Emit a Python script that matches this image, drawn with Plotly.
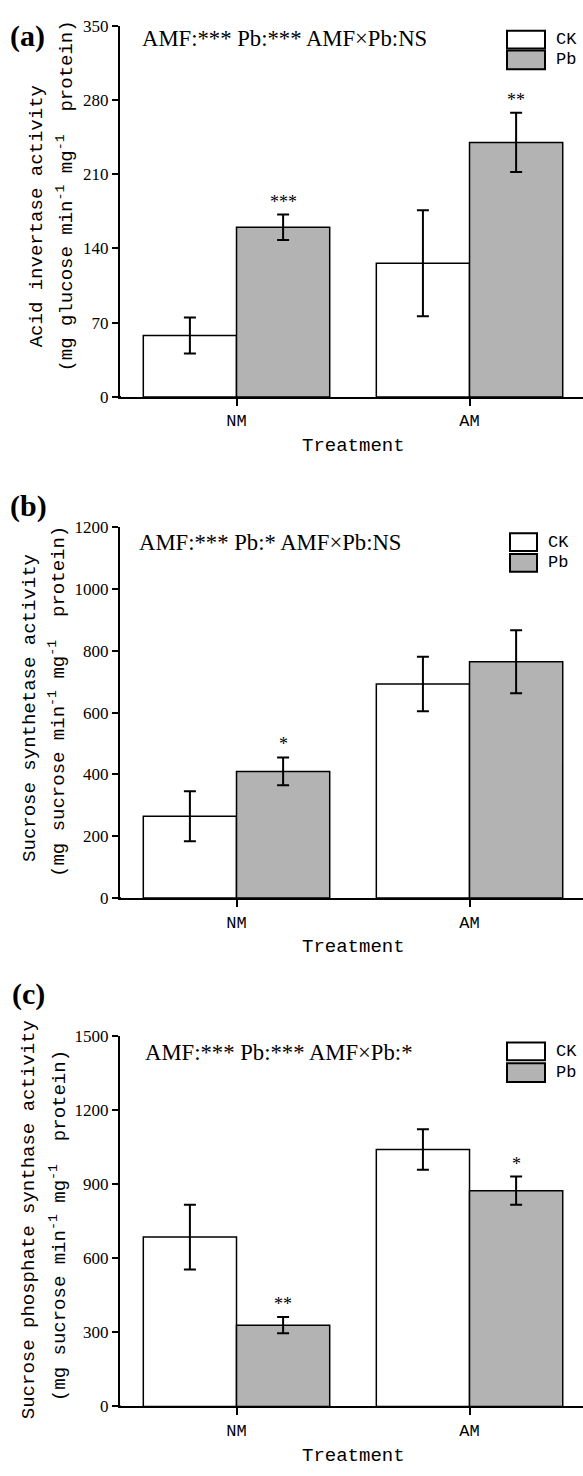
import plotly.graph_objects as go

# ---------------- data ----------------
categories = ["NM", "AM"]

# (a) Acid invertase activity
ai_ck = [58, 126]
ai_ck_err = [17, 50]
ai_pb = [160, 240]
ai_pb_err = [12, 28]
ai_pb_sig = ["***", "**"]
ai_ticks = [0, 70, 140, 210, 280, 350]
ai_stats = "AMF:*** Pb:*** AMF×Pb:NS"

# (b) Sucrose synthetase activity
ss_ck = [265, 693]
ss_ck_err = [81, 88]
ss_pb = [410, 765]
ss_pb_err = [45, 102]
ss_pb_sig = ["*", ""]
ss_ticks = [0, 200, 400, 600, 800, 1000, 1200]
ss_stats = "AMF:*** Pb:* AMF×Pb:NS"

# (c) Sucrose phosphate synthase activity
sps_ck = [685, 1039]
sps_ck_err = [131, 82]
sps_pb = [329, 873]
sps_pb_err = [33, 57]
sps_pb_sig = ["**", "*"]
sps_ticks = [0, 300, 600, 900, 1200, 1500]
sps_stats = "AMF:*** Pb:*** AMF×Pb:*"

series_names = ["CK", "Pb"]
panel_labels = ["(a)", "(b)", "(c)"]
ytitle_line1 = ["Acid invertase activity",
                "Sucrose synthetase activity",
                "Sucrose phosphate synthase activity"]
ytitle_line2 = ["(mg glucose min<sup>-1</sup> mg<sup>-1</sup>  protein)",
                "(mg sucrose min<sup>-1</sup> mg<sup>-1</sup>  protein)",
                "(mg sucrose min<sup>-1</sup> mg<sup>-1</sup>  protein)"]
xtitle = "Treatment"

# ---------------- layout geometry (pixels) ----------------
W, H = 583, 1476
def px(x):
    return x / W
def py(y):
    return 1 - y / H

panels = [
    dict(ck=ai_ck, ck_err=ai_ck_err, pb=ai_pb, pb_err=ai_pb_err, sig=ai_pb_sig,
         ticks=ai_ticks, stats=ai_stats, top=17, bottom=393,
         lab=(27, 27), stats_pos=(140, 30), yt1=(37, 210), yt2=(66, 190),
         leg_x=(507, 545), leg_ck=(22, 40), leg_pb=(42, 61), xt_y=443),
    dict(ck=ss_ck, ck_err=ss_ck_err, pb=ss_pb, pb_err=ss_pb_err, sig=ss_pb_sig,
         ticks=ss_ticks, stats=ss_stats, top=525, bottom=900.7,
         lab=(28, 503), stats_pos=(137, 540), yt1=(30, 708), yt2=(58, 702),
         leg_x=(510, 537), leg_ck=(531, 549), leg_pb=(552, 570), xt_y=950),
    dict(ck=sps_ck, ck_err=sps_ck_err, pb=sps_pb, pb_err=sps_pb_err, sig=sps_pb_sig,
         ticks=sps_ticks, stats=sps_stats, top=1040, bottom=1415.7,
         lab=(28, 998), stats_pos=(143, 1057), yt1=(29, 1227), yt2=(58, 1233),
         leg_x=(507, 545), leg_ck=(1047, 1065), leg_pb=(1068, 1087), xt_y=1466),
]

CK_COLOR = "white"
PB_COLOR = "#b3b3b3"
MONO = "Liberation Mono"
SERIF = "Liberation Serif"

fig = go.Figure()
annotations = []
shapes = []
layout_axes = {}

for i, p in enumerate(panels):
    n = "" if i == 0 else str(i + 1)
    xa, ya = "x" + n, "y" + n
    for name, vals, errs, color in [("CK", p["ck"], p["ck_err"], CK_COLOR),
                                     ("Pb", p["pb"], p["pb_err"], PB_COLOR)]:
        fig.add_trace(go.Bar(
            x=categories, y=vals, name=name, offsetgroup=name,
            xaxis=xa, yaxis=ya, showlegend=False,
            marker=dict(color=color, line=dict(color="black", width=1.5)),
            error_y=dict(type="data", array=errs, color="black", thickness=2, width=6),
        ))

    layout_axes["xaxis" + n] = dict(
        domain=[px(120), 1], range=[-0.5, 1.487], type="category", anchor=ya,
        showline=True, linecolor="black", linewidth=2, ticks="outside", ticklen=7,
        tickwidth=1.5, tickcolor="black", showgrid=False, zeroline=False,
        tickfont=dict(family=MONO, size=17, color="black"),
    )
    layout_axes["yaxis" + n] = dict(
        domain=[py(p["bottom"]), py(p["top"])], range=[0, p["ticks"][-1]],
        tickvals=p["ticks"], anchor=xa, showline=True, linecolor="black", linewidth=2,
        ticks="outside", ticklen=6, tickwidth=1.5, tickcolor="black",
        showgrid=False, zeroline=False,
        tickfont=dict(family=SERIF, size=17, color="black"),
    )

    # x-axis overhang to the left of the y axis
    shapes.append(dict(type="line", xref="paper", yref=ya, x0=px(114), x1=px(121),
                       y0=0, y1=0, line=dict(color="black", width=2)))

    # significance markers over Pb bars
    for j, s in enumerate(p["sig"]):
        if s:
            annotations.append(dict(
                xref=xa, yref=ya, x=j + 0.2, y=p["pb"][j] + p["pb_err"][j],
                text=s, showarrow=False, xanchor="center", yanchor="bottom", yshift=1,
                font=dict(family=SERIF, size=18, color="black")))

    # panel label
    annotations.append(dict(xref="paper", yref="paper", x=px(p["lab"][0]), y=py(p["lab"][1]),
                            text="<b>" + panel_labels[i] + "</b>", showarrow=False,
                            xanchor="center", yanchor="middle",
                            font=dict(family=SERIF, size=30, color="black")))
    # statistics text
    annotations.append(dict(xref="paper", yref="paper", x=px(p["stats_pos"][0]),
                            y=py(p["stats_pos"][1]), text=p["stats"], showarrow=False,
                            xanchor="left", yanchor="middle",
                            font=dict(family=SERIF, size=22.7, color="black")))
    # y-axis titles
    for (cx, cy), txt in [(p["yt1"], ytitle_line1[i]), (p["yt2"], ytitle_line2[i])]:
        annotations.append(dict(xref="paper", yref="paper", x=px(cx), y=py(cy), text=txt,
                                textangle=-90, showarrow=False, xanchor="center",
                                yanchor="middle",
                                font=dict(family=MONO, size=19, color="black")))
    # x-axis title
    annotations.append(dict(xref="paper", yref="paper", x=px(353), y=py(p["xt_y"]),
                            text=xtitle, showarrow=False, xanchor="center", yanchor="middle",
                            font=dict(family=MONO, size=19, color="black")))
    # legend
    for (y0, y1), color, label in [(p["leg_ck"], CK_COLOR, series_names[0]),
                                   (p["leg_pb"], PB_COLOR, series_names[1])]:
        shapes.append(dict(type="rect", xref="paper", yref="paper",
                           x0=px(p["leg_x"][0]), x1=px(p["leg_x"][1]),
                           y0=py(y1), y1=py(y0), fillcolor=color,
                           line=dict(color="black", width=2)))
        annotations.append(dict(xref="paper", yref="paper", x=px(p["leg_x"][1] + 9),
                                y=py((y0 + y1) / 2), text=label, showarrow=False,
                                xanchor="left", yanchor="middle",
                                font=dict(family=MONO, size=17, color="black")))

fig.update_layout(
    width=W, height=H, margin=dict(l=0, r=0, t=0, b=0),
    paper_bgcolor="white", plot_bgcolor="white",
    barmode="group", bargap=0.2, bargroupgap=0,
    annotations=annotations, shapes=shapes,
    **layout_axes,
)

fig.write_html(
    "out.html",
    config={"displayModeBar": False},
    post_script="document.body.style.margin='0';document.body.style.padding='0';"
                "document.body.style.overflow='hidden';",
)
